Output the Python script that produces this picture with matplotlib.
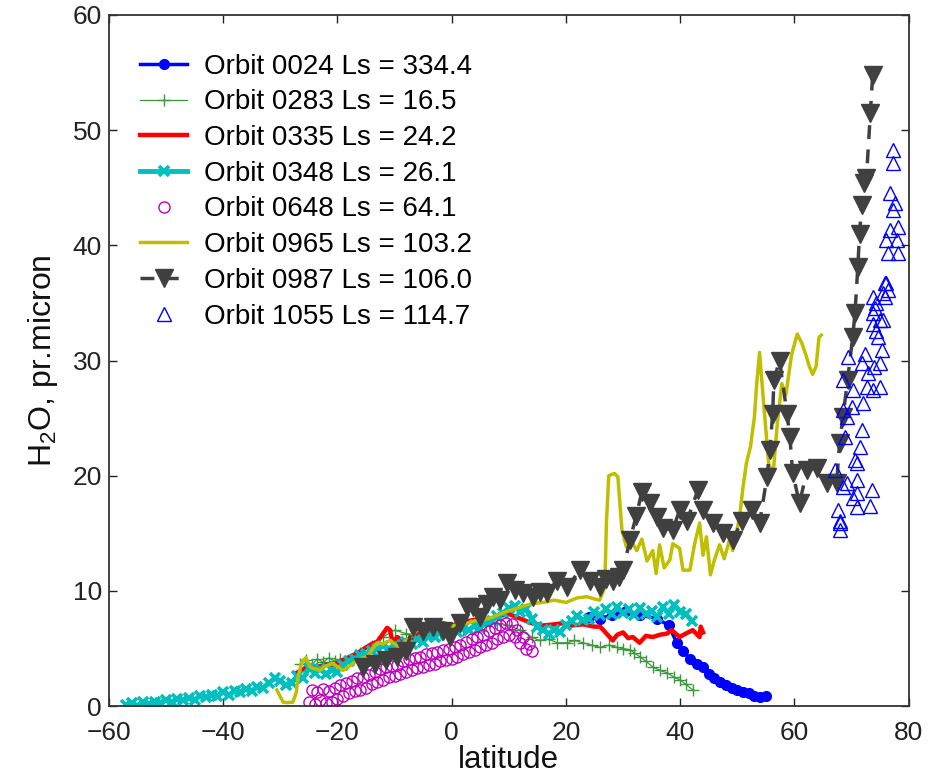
import matplotlib
matplotlib.use("Agg")
import matplotlib.pyplot as plt

plt.rcParams['font.family'] = ['Liberation Sans', 'DejaVu Sans']
plt.rcParams['mathtext.fontset'] = 'custom'
plt.rcParams['mathtext.rm'] = 'Liberation Sans'
plt.rcParams['mathtext.it'] = 'Liberation Sans:italic'

# --- data (latitude, H2O pr.micron) ---
# Orbit 0024, Ls = 334.4
lat_0024 = [24, 26, 28, 30.6, 33, 36, 38, 39.4, 40.5, 41.7, 42.9, 44.0,
            45.0, 46.0, 47.0, 48.0, 49.0, 50.0, 51.0, 52.0, 53.0, 54.0, 55.0]
h2o_0024 = [7.7, 7.6, 7.9, 8.3, 7.9, 7.6, 7.0, 5.5, 4.8, 4.1, 3.7, 3.4,
            2.8, 2.4, 2.1, 1.8, 1.6, 1.4, 1.2, 1.1, 0.9, 0.8, 0.85]

# Orbit 0283, Ls = 16.5
lat_0283 = [-26.5, -25.5, -24.5, -23.5, -22.5, -21.5, -20.5, -19.5, -18, -16, -14, -12, -10, -8,
            -6, -4, -2, 0, 2, 4, 6, 8, 10, 12, 14, 15.4, 17, 18.5, 20.2, 21.5, 23, 24.5, 25.9,
            27.5, 28.9, 30, 31.2, 32, 32.9, 34, 35.2, 36.5, 37.7, 39, 39.9, 41, 42.2]
h2o_0283 = [3.7, 4.0, 3.6, 4.1, 3.8, 4.2, 3.9, 4.1, 4.0, 4.6, 5.2, 6.0, 6.6, 6.3,
            6.2, 6.3, 6.4, 6.5, 6.6, 6.8, 7.0, 7.2, 7.0, 6.6, 6.0, 5.7, 5.8, 5.5, 5.5, 5.7, 5.5, 5.3, 5.1,
            5.3, 5.1, 5.0, 4.9, 4.6, 4.3, 3.9, 3.4, 3.1, 2.9, 2.5, 2.3, 1.9, 1.4]

# Orbit 0335, Ls = 24.2
lat_0335 = [-27.1, -26, -25, -23.6, -22, -20.8, -19.5, -17.8, -16.5, -15.3, -14, -13, -12, -11.3,
            -10.8, -10.3, -9.5, -8.5, -7, -5.5, -4, -2.5, -1.5, 0, 2, 4, 6, 8, 10, 12, 14, 16, 18,
            19.5, 21, 23, 25, 26, 27.1, 28.2, 29, 30, 30.9, 31.7, 32.9, 34, 35.2, 36.5, 37.7, 38.5,
            39.9, 41, 42.2, 43.4, 43.6, 44]
h2o_0335 = [2.9, 3.2, 3.5, 3.4, 3.6, 3.4, 3.9, 4.3, 4.6, 5.0, 5.4, 5.6, 6.3, 6.8,
            6.6, 5.5, 6.0, 5.6, 5.9, 6.3, 6.5, 6.8, 7.2, 7.0, 7.3, 7.5, 7.4, 7.8, 8.0, 7.6, 7.2, 7.0, 7.1,
            7.2, 7.0, 7.1, 6.9, 6.9, 6.3, 5.7, 6.2, 6.4, 5.9, 6.0, 5.5, 6.1, 6.0, 6.2, 6.3, 6.6,
            6.0, 6.3, 6.6, 6.0, 6.9, 6.4]

# Orbit 0348, Ls = 26.1
lat_0348 = [-57, -56, -55, -54, -53, -52, -51, -50, -49, -48, -47, -46, -45, -44, -43, -42, -41,
            -40, -39, -38, -37, -36, -35, -34, -33, -32, -31, -30, -29, -28, -27, -26, -25, -24,
            -23, -22, -21, -20, -19, -18, -17, -16, -15, -14, -13, -12, -11, -10, -9, -8, -7,
            -6, -5, -4, -3, -2, -1, 0, 1, 2, 3, 4, 5, 6, 7, 8, 9, 10, 11, 12, 13, 14, 15, 16,
            17, 18, 19, 20, 21, 22, 23, 24, 25, 26, 27, 28, 29, 30, 31, 32, 33, 34, 35, 36, 37,
            38, 39, 40, 41, 42]
h2o_0348 = [0.1, 0.3, 0.05, 0.35, 0.2, 0.4, 0.3, 0.5, 0.35, 0.6, 0.5, 0.7, 0.55, 0.9, 0.8, 1.0, 0.9,
            1.2, 1.0, 1.3, 1.2, 1.5, 1.3, 1.7, 1.6, 2.0, 2.4, 2.2, 1.8, 2.0, 2.6, 2.4, 3.3, 2.9,
            3.2, 2.8, 3.1, 3.0, 3.6, 3.9, 4.1, 4.4, 4.5, 4.8, 5.0, 5.2, 5.0, 5.3, 5.1, 5.6, 5.4,
            5.8, 5.6, 6.1, 6.0, 6.4, 6.2, 6.6, 6.4, 6.8, 6.6, 7.0, 6.8, 7.3, 7.4, 7.8, 8.1, 8.5,
            8.7, 8.2, 8.4, 7.6, 6.9, 6.6, 6.3, 6.6, 6.4, 7.0, 7.4, 7.8, 7.5, 7.6, 8.2, 7.9, 8.4,
            8.0, 8.6, 8.1, 8.4, 7.9, 8.5, 8.0, 8.3, 7.7, 8.6, 8.0, 8.8, 8.2, 8.0, 7.4]

# Orbit 0648, Ls = 64.1
lat_0648 = [-25.0, -24.5, -24.0, -23.5, -23.0, -22.5, -22.0, -21.5, -21.0, -20.5, -20.0, -19.5,
            -19.0, -18.5, -18.0, -17.5, -17.0, -16.5, -16.0, -15.5, -15.0, -14.5, -14.0, -13.5,
            -13.0, -12.5, -12.0, -11.5, -11.0, -10.5, -10.0, -9.5, -9.0, -8.5, -8.0, -7.5, -7.0,
            -6.5, -6.0, -5.5, -5.0, -4.5, -4.0, -3.5, -3.0, -2.5, -2.0, -1.5, -1.0, -0.5, 0.0,
            0.5, 1.0, 1.5, 2.0, 2.5, 3.0, 3.5, 4.0, 4.5, 5.0, 5.5, 6.0, 6.5, 7.0, 7.5, 8.0, 8.5,
            9.0, 9.5, 10.0, 10.5, 11.0, 11.5, 12.0, 12.5, 13.0, 13.5, 14.0]
h2o_0648 = [0.4, 1.4, 0.2, 1.2, 0.5, 1.5, 0.3, 1.3, 0.4, 1.6, 0.6, 1.8,
            0.9, 2.0, 1.1, 2.2, 1.3, 2.4, 1.4, 2.5, 1.6, 2.7, 1.9, 3.0,
            2.1, 3.2, 2.3, 3.4, 2.5, 3.5, 2.6, 3.6, 2.8, 3.9, 3.0, 4.1, 3.1,
            4.2, 3.3, 4.3, 3.4, 4.5, 3.6, 4.6, 3.7, 4.7, 3.9, 4.9, 4.0, 5.0, 4.1,
            5.1, 4.3, 5.3, 4.5, 5.6, 4.7, 5.8, 4.9, 6.0, 5.1, 6.2, 5.3, 6.5, 5.5, 6.8, 5.8, 7.0,
            6.0, 7.2, 6.2, 7.1, 6.0, 6.6, 5.5, 6.0, 5.0, 5.4, 4.8]

# Orbit 0965, Ls = 103.2
lat_0965 = [-30.6, -29.5, -28.8, -27.8, -27.2, -26.9, -26.2, -25.5, -24.8, -23.1, -22, -20.8,
            -19.0, -17.5, -16.6, -14.8, -13.1, -12, -10.8, -9.1, -7.5, -6.1, -4.5, -3.3, -1.5,
            -0.3, 1.2, 2.7, 4, 5.5, 7, 8.4, 10.2, 12, 14, 16, 18, 20, 22, 23.7, 25, 25.9, 26.8,
            27.1, 27.5, 28.5, 29.1, 29.8, 30.6, 31.5, 32.4, 33.3, 34.2, 35.2, 35.8, 36.4, 37.2,
            38.2, 38.7, 39.9, 40.5, 41.7, 42.5, 43.4, 44.0, 44.6, 45.3, 46.0, 46.9, 47.7, 48.7,
            49.2, 50.4, 51.0, 51.6, 52.3, 53.0, 53.4, 53.9, 54.5, 55.0, 55.5, 56.3, 57.0, 57.8,
            58.5, 59.5, 60.5, 61.3, 62.0, 62.6, 63.2, 63.8, 64.3, 64.7]
h2o_0965 = [1.4, 0.35, 0.3, 0.35, 1.2, 2.5, 3.9, 4.2, 3.4, 3.1, 3.5, 3.7,
            3.1, 3.6, 4.0, 4.3, 5.5, 5.4, 5.7, 5.1, 5.9, 6.6, 6.9, 7.2, 7.0,
            6.9, 7.1, 7.2, 7.4, 7.5, 7.7, 8.0, 8.3, 8.6, 8.9, 9.0, 9.2, 9.0, 9.4, 9.5, 9.3, 9.2, 10.3,
            16.0, 20.0, 20.2, 19.9, 15.3, 13.8, 14.3, 13.5, 14.5, 12.6, 13.5, 11.5, 14.0, 12.0,
            12.7, 14.1, 13.7, 11.8, 11.8, 14.0, 15.9, 13.1, 14.7, 11.4, 12.7, 14.0, 12.8, 14.5,
            13.5, 16.4, 19.0, 21.1, 22.5, 25.1, 28.0, 30.7, 27.0, 24.0, 21.0, 20.3, 24.5, 28.0,
            27.0, 30.5, 32.3, 31.5, 30.5, 29.5, 28.8, 29.5, 32.0, 32.2]

# Orbit 0987, Ls = 106.0
lat_0987 = [-15.5, -13.5, -11.5, -9.5, -8.0, -6.8, -5.0, -3.3, -1.5, -0.3, 1.4, 2.7, 3.7, 4.9,
            6.2, 7.3, 8.4, 9.7, 11.0, 12.5, 14.2, 15.5, 16.7, 18.4, 20.2, 22.4, 24.2, 25.9, 27.0,
            28.2, 29.3, 30.0, 31.2, 32.3, 33.3, 34.7, 35.9, 37.0, 38.7, 39.9, 41.2, 43.1, 44.0,
            45.7, 47.5, 49.2, 50.8, 52.5, 53.9, 55.2, 55.7, 56.2, 56.4, 57.4, 58.7, 59.2, 59.7,
            60.9, 62.2, 63.9, 65.7, 67.4, 67.9, 68.5, 69.3, 70.2, 70.6, 71.1, 71.4, 71.8, 72.2,
            72.6, 73.3, 73.7]
h2o_0987 = [3.4, 3.7, 4.0, 4.3, 4.8, 6.9, 6.5, 6.9, 6.5, 6.0, 7.2, 8.6, 8.6, 7.7,
            8.9, 9.5, 9.2, 10.7, 10.1, 9.8, 9.5, 9.9, 9.8, 10.9, 10.3, 11.8, 10.9, 10.3, 11.0,
            10.9, 11.2, 11.8, 14.4, 16.5, 18.6, 17.6, 16.4, 15.5, 15.3, 17.0, 16.1, 18.75, 17.0,
            15.9, 15.0, 14.4, 16.1, 17.0, 15.9, 19.9, 22.2, 25.4, 28.3, 30.0, 25.4, 23.4, 20.2,
            17.6, 20.5, 20.7, 19.4, 19.4, 22.8, 25.1, 28.3, 32.0, 34.1, 38.1, 41.0, 43.5, 45.4,
            45.8, 51.5, 54.8]

# Orbit 1055, Ls = 114.7
lat_1055 = [67.9, 67.9, 67.6, 68.5, 70.9, 70.9, 70.9, 70.6, 71.4, 71.8, 68.8, 69.2, 68.5, 70.0,
            72.0, 70.2, 68.5, 72.7, 73.7, 74.9, 72.8, 74.0, 71.8, 69.3, 72.3, 74.9, 75.3, 74.6,
            73.7, 75.5, 74.1, 75.8, 76.3, 73.7, 75.8, 70.2, 69.2, 70.9, 67.1, 67.9, 77.2, 77.2,
            76.7, 77.6, 77.2, 76.7, 78.1, 76.0, 77.9, 76.3, 78.1, 76.0, 75.5, 74.3, 73.7, 74.9,
            74.3, 73.2, 73.5]
h2o_1055 = [15.3, 16.1, 17.0, 19.0, 17.3, 18.5, 19.6, 21.4, 22.5, 24.0, 23.4, 25.1, 25.7, 26.0,
            26.3, 27.4, 28.3, 27.7, 27.4, 27.7, 28.9, 29.4, 29.8, 30.3, 30.6, 29.8, 30.9, 32.0,
            33.2, 33.5, 34.6, 35.5, 36.1, 35.5, 36.7, 18.1, 19.4, 21.1, 20.5, 15.9, 48.3, 47.1,
            44.5, 43.7, 43.1, 41.3, 41.6, 40.5, 40.5, 39.3, 39.3, 36.7, 35.9, 35.0, 34.1, 33.5,
            32.6, 17.4, 18.8]

xticks = [-60, -40, -20, 0, 20, 40, 60, 80]
yticks = [0, 10, 20, 30, 40, 50, 60]

fig = plt.figure(figsize=(9.31, 7.82), dpi=100)
ax = fig.add_axes([0.117, 0.097, 0.859, 0.884])

ax.plot(lat_0024, h2o_0024, '-o', color='#0000ff', lw=2.5, ms=7,
        label='Orbit 0024 Ls = 334.4')
ax.plot(lat_0283, h2o_0283, '-+', color='#3c963c', lw=0.9, ms=8, mew=1,
        label='Orbit 0283 Ls = 16.5')
ax.plot(lat_0335, h2o_0335, '-', color='#ff0000', lw=3.2,
        label='Orbit 0335 Ls = 24.2')
ax.plot(lat_0348, h2o_0348, '-x', color='#00bfbf', lw=3.5, ms=7, mew=2.6,
        label='Orbit 0348 Ls = 26.1')
ax.plot(lat_0648, h2o_0648, 'o', color='#bf00bf', ms=8, mfc='none', mew=1,
        label='Orbit 0648 Ls = 64.1')
ax.plot(lat_0965, h2o_0965, '-', color='#bfbf00', lw=2.5,
        label='Orbit 0965 Ls = 103.2')
ax.plot(lat_0987, h2o_0987, '--v', color='#404040', lw=2.5, ms=13, dashes=(4, 3),
        label='Orbit 0987 Ls = 106.0')
ax.plot(lat_1055, h2o_1055, '^', color='#0000ff', ms=10.5, mfc='none', mew=1,
        label='Orbit 1055 Ls = 114.7')

ax.set_xlim(-60, 80)
ax.set_ylim(0, 60)
ax.set_xticks(xticks)
ax.set_yticks(yticks)
ax.tick_params(direction='in', top=True, right=True, length=6, width=1,
               labelsize=19, colors='#222222')
ax.tick_params(axis='x', pad=11)
ax.tick_params(axis='y', pad=5)
for s in ax.spines.values():
    s.set_color('#333333')
    s.set_linewidth(1.3)

ax.set_xlabel('latitude', fontsize=22.5, labelpad=0, color='#111111')
ax.set_ylabel('H$_2$O, pr.micron', fontsize=23, labelpad=9, color='#111111')

ax.legend(loc='upper left', bbox_to_anchor=(0.039, 0.944), frameon=False,
          borderpad=0, borderaxespad=0, handlelength=1.7, handletextpad=0.6,
          labelspacing=0.35, fontsize=20)

fig.savefig('out.png', dpi=100)
